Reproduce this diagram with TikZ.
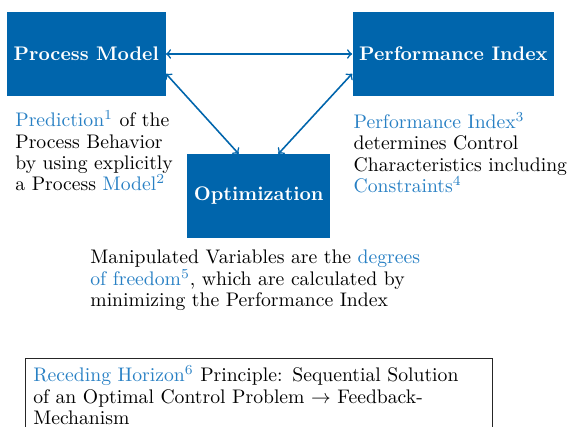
\documentclass[tikz,border=0pt]{standalone}
\usetikzlibrary{calc}
\definecolor{boxblue}{RGB}{0,101,172}
\definecolor{hlblue}{RGB}{40,128,196}
\newcommand{\hlt}[1]{\textcolor{hlblue}{#1}}
\begin{document}
\begin{tikzpicture}[x=0.5086pt,y=-0.5086pt,
  txt/.style={font=\fontsize{10pt}{10.9pt}\selectfont},
  block/.style={fill=boxblue, text=white, font=\fontsize{10pt}{10.9pt}\selectfont\bfseries,
    minimum height=42.5pt, inner sep=3.4pt},
  note/.style={txt, align=left, anchor=base west, inner sep=0pt},
  link/.style={draw=boxblue, line width=0.8pt, <->, >=to}]
\useasboundingbox (0,0) rectangle (571,427);

% the three main blocks
\node[block] (pm)  at (86.3,54)  {Process Model};
\node[block] (pi)  at (453.4,54) {Performance Index};
\node[block] (opt) at (258.7,196) {Optimization};

% connections between the blocks
\draw[link] (pm.east) -- (pi.west);
\draw[link] ($(pm.east)+(0,-10pt)$) -- ($(opt.north)+(-10.2pt,0)$);
\draw[link] ($(pi.west)+(0,-10pt)$) -- ($(opt.north)+(10pt,0)$);

% explanatory texts (anchored at the baseline of their last line)
\node[note] (t1) at (15,191)
  {\hlt{Prediction$^1$} of the\\Process Behavior\\by using explicitly\\a Process \hlt{Model$^2$}};
\node[note] (t2) at (353.3,192.5)
  {\hlt{Performance Index$^3$}\\determines Control\\Characteristics including\\\hlt{Constraints$^4$}};
\node[note] (t3) at (90,306.7)
  {Manipulated Variables are the \hlt{degrees}\\\hlt{of freedom$^5$}, which are calculated by\\minimizing the Performance Index};

% receding horizon box
\node[txt, draw=black!85, line width=0.5pt, anchor=north west, align=left,
  text width=230pt, inner sep=3.8pt] (rh) at (25.3,357.7)
  {\hlt{Receding Horizon$^6$} Principle: Sequential Solution\\of an Optimal Control Problem $\rightarrow$ Feedback-\\Mechanism};
\end{tikzpicture}
\end{document}
